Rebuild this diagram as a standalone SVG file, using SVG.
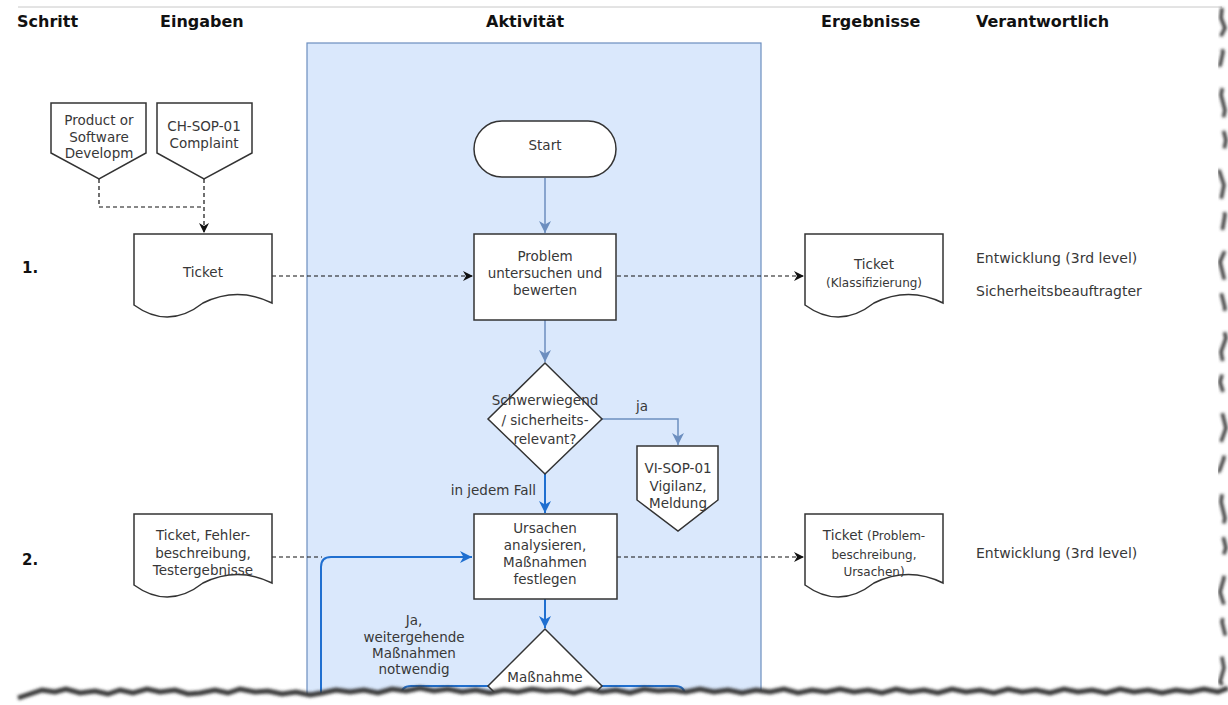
<svg xmlns="http://www.w3.org/2000/svg" width="1228" height="705" viewBox="0 0 1228 705">
<style>
text{font-family:"DejaVu Sans","Verdana",sans-serif;font-size:13.5px;fill:#383838;text-anchor:middle}
.hdr{font-weight:bold;font-size:16px;fill:#111;text-anchor:start}
.step{font-weight:bold;font-size:15px;fill:#111;text-anchor:start}
.resp{font-size:14px;text-anchor:start}
.sm{font-size:12px}
.node{fill:#fff;stroke:#333;stroke-width:1.5}
.dash{fill:none;stroke:#111;stroke-width:1.2;stroke-dasharray:4 3}
.gb{fill:none;stroke:#6c8ebf;stroke-width:1.5}
.bb{fill:none;stroke:#1f6fd0;stroke-width:2}
</style>
<defs>
<marker id="aBlack" markerUnits="userSpaceOnUse" markerWidth="12" markerHeight="10" refX="10" refY="5" orient="auto"><path d="M0,0 L10,5 L0,10 L3,5 Z" fill="#111"/></marker>
<marker id="aGray" markerUnits="userSpaceOnUse" markerWidth="14" markerHeight="12" refX="12" refY="6" orient="auto"><path d="M0,0 L12,6 L0,12 L3.5,6 Z" fill="#6c8ebf"/></marker>
<marker id="aBlue" markerUnits="userSpaceOnUse" markerWidth="14" markerHeight="12" refX="12" refY="6" orient="auto"><path d="M0,0 L12,6 L0,12 L3.5,6 Z" fill="#1f6fd0"/></marker>
<filter id="blur" x="-5%" y="-50%" width="110%" height="200%"><feGaussianBlur stdDeviation="1.6"/></filter>
</defs>

<line x1="18" y1="7" x2="1222" y2="7" stroke="#c8c8c8" stroke-width="1"/>

<g id="headers">
<text class="hdr" x="17" y="27">Schritt</text>
<text class="hdr" x="160" y="27">Eingaben</text>
<text class="hdr" x="486" y="27">Aktivität</text>
<text class="hdr" x="821" y="27">Ergebnisse</text>
<text class="hdr" x="976" y="27">Verantwortlich</text>
</g>

<g id="lane"><rect x="307" y="43" width="454" height="680" fill="#dae8fc" stroke="#6c8ebf" stroke-width="1.2"/></g>

<g id="steps">
<text class="step" x="22" y="273">1.</text>
<text class="step" x="22" y="565">2.</text>
</g>

<g id="connectors">
<path class="dash" d="M99,179 V207 H204"/>
<path class="dash" d="M204,179 V233" marker-end="url(#aBlack)"/>
<path class="dash" d="M272,276 H473" marker-end="url(#aBlack)"/>
<path class="dash" d="M617,276 H804" marker-end="url(#aBlack)"/>
<path class="gb" d="M545,178 V233" marker-end="url(#aGray)"/>
<path class="gb" d="M545,320 V362" marker-end="url(#aGray)"/>
<path class="gb" d="M602,419 H678 V445" marker-end="url(#aGray)"/>
<path class="bb" d="M545,474 V513" marker-end="url(#aBlue)"/>
<path class="dash" d="M272,557 H322"/>
<path class="bb" d="M321,705 V567 Q321,557 331,557 H472" marker-end="url(#aBlue)"/>
<path class="dash" d="M617,557 H804" marker-end="url(#aBlack)"/>
<path class="bb" d="M545,599 V628" marker-end="url(#aBlue)"/>
<path class="bb" d="M489,686 H411 Q401,686 401,696 V705"/>
<path class="bb" d="M601,686 H675 Q685,686 685,696 V705"/>
<text x="636" y="411" style="text-anchor:start">ja</text>
<text x="536" y="495" style="text-anchor:end">in jedem Fall</text>
<text x="414" y="625">Ja,</text>
<text x="414" y="642">weitergehende</text>
<text x="414" y="658">Maßnahmen</text>
<text x="414" y="674">notwendig</text>
</g>

<g id="in-product">
<path class="node" d="M51,103 H146 V153 L99,179 L51,153 Z"/>
<text x="99" y="125">Product or</text>
<text x="99" y="142">Software</text>
<text x="99" y="158">Developm</text>
</g>
<g id="in-chsop">
<path class="node" d="M157,103 H252 V153 L204,179 L157,153 Z"/>
<text x="204" y="131">CH-SOP-01</text>
<text x="204" y="148">Complaint</text>
</g>
<g id="in-ticket">
<path class="node" d="M134,234 H272 V303 Q237.5,286 203,303 Q168.5,330 134,305 Z"/>
<text x="203" y="277">Ticket</text>
</g>
<g id="start">
<rect class="node" x="474" y="121" width="142" height="56" rx="28" ry="28"/>
<text x="545" y="150">Start</text>
</g>
<g id="problem">
<rect class="node" x="474" y="234" width="142" height="86"/>
<text x="545" y="261">Problem</text>
<text x="545" y="278">untersuchen und</text>
<text x="545" y="295">bewerten</text>
</g>
<g id="out-ticket1">
<path class="node" d="M805,234 H943 V303 Q908.5,286 874,303 Q839.5,330 805,305 Z"/>
<text x="874" y="269">Ticket</text>
<text class="sm" x="874" y="287">(Klassifizierung)</text>
</g>
<g id="resp1">
<text class="resp" x="976" y="263">Entwicklung (3rd level)</text>
<text class="resp" x="976" y="296">Sicherheitsbeauftragter</text>
</g>
<g id="decision1">
<path class="node" d="M545,363 L602,419 L545,474 L488,419 Z"/>
<text x="545" y="405">Schwerwiegend</text>
<text x="545" y="425">/ sicherheits-</text>
<text x="545" y="444">relevant?</text>
</g>
<g id="vi-sop">
<path class="node" d="M637,446 H718 V500 L678,531 L637,500 Z"/>
<text x="678" y="473">VI-SOP-01</text>
<text x="678" y="491">Vigilanz,</text>
<text x="678" y="508">Meldung</text>
</g>
<g id="in-ticket2">
<path class="node" d="M134,514 H272 V583 Q237.5,566 203,583 Q168.5,610 134,585 Z"/>
<text x="203" y="540">Ticket, Fehler-</text>
<text x="203" y="558">beschreibung,</text>
<text x="203" y="575">Testergebnisse</text>
</g>
<g id="ursachen">
<rect class="node" x="474" y="514" width="143" height="85"/>
<text x="545" y="533">Ursachen</text>
<text x="545" y="550">analysieren,</text>
<text x="545" y="567">Maßnahmen</text>
<text x="545" y="584">festlegen</text>
</g>
<g id="out-ticket2">
<path class="node" d="M805,514 H943 V583 Q908.5,566 874,583 Q839.5,610 805,585 Z"/>
<text x="874" y="540">Ticket <tspan class="sm">(Problem-</tspan></text>
<text class="sm" x="874" y="559">beschreibung,</text>
<text class="sm" x="874" y="576">Ursachen)</text>
</g>
<g id="resp2">
<text class="resp" x="976" y="558">Entwicklung (3rd level)</text>
</g>
<g id="decision2">
<path class="node" d="M545,629 L602,686 L545,743 L488,686 Z"/>
<text x="545" y="682">Maßnahme</text>
</g>

<g id="torn-edges">
<path d="M0,700 L18,698 L30,694 L42,690 L55,692 L66,689 L80,693 L95,691 L108,694 L120,690 L133,693 L147,689 L160,692 L175,690 L188,694 L200,693 L215,690 L228,693 L240,689 L255,692 L268,691 L282,694 L296,692 L310,695 L322,693 L336,690 L350,692 L364,690 L378,693 L392,689 L406,691 L420,688 L434,691 L448,689 L462,692 L476,690 L490,693 L504,690 L518,692 L532,689 L546,691 L560,690 L574,693 L588,689 L602,692 L616,690 L630,693 L644,689 L658,691 L672,690 L686,692 L700,689 L714,692 L728,690 L742,693 L756,690 L770,692 L784,689 L798,693 L812,690 L826,692 L840,689 L854,692 L868,690 L882,693 L896,689 L910,692 L924,690 L938,693 L952,689 L966,692 L980,690 L994,693 L1008,689 L1022,692 L1036,690 L1050,693 L1064,689 L1078,692 L1092,690 L1106,693 L1120,689 L1134,692 L1148,690 L1162,693 L1176,690 L1190,692 L1204,689 L1218,692 L1228,688 L1228,705 L0,705 Z" fill="#fff"/>
<path d="M1222,0 L1222,8 L1221,18 L1225,28 L1219,40 L1223,52 L1220,66 L1224,80 L1221,95 L1225,110 L1222,125 L1226,140 L1223,155 L1219,170 L1224,185 L1221,200 L1225,215 L1222,232 L1226,248 L1220,262 L1224,278 L1221,292 L1225,308 L1222,322 L1226,338 L1221,352 L1224,368 L1220,382 L1225,398 L1222,412 L1226,428 L1221,442 L1224,458 L1219,472 L1223,488 L1221,502 L1225,518 L1222,532 L1226,548 L1221,562 L1224,578 L1220,592 L1225,608 L1222,622 L1226,638 L1221,652 L1224,668 L1220,682 L1228,690 L1228,0 Z" fill="#fff"/>
<path d="M18,698 L30,694 L42,690 L55,692 L66,689 L80,693 L95,691 L108,694 L120,690 L133,693 L147,689 L160,692 L175,690 L188,694 L200,693 L215,690 L228,693 L240,689 L255,692 L268,691 L282,694 L296,692 L310,695 L322,693 L336,690 L350,692 L364,690 L378,693 L392,689 L406,691 L420,688 L434,691 L448,689 L462,692 L476,690 L490,693 L504,690 L518,692 L532,689 L546,691 L560,690 L574,693 L588,689 L602,692 L616,690 L630,693 L644,689 L658,691 L672,690 L686,692 L700,689 L714,692 L728,690 L742,693 L756,690 L770,692 L784,689 L798,693 L812,690 L826,692 L840,689 L854,692 L868,690 L882,693 L896,689 L910,692 L924,690 L938,693 L952,689 L966,692 L980,690 L994,693 L1008,689 L1022,692 L1036,690 L1050,693 L1064,689 L1078,692 L1092,690 L1106,693 L1120,689 L1134,692 L1148,690 L1162,693 L1176,690 L1190,692 L1204,689 L1218,692 L1228,688" fill="none" stroke="#3a3a3a" stroke-width="5" filter="url(#blur)"/>
<path d="M1222,8 L1221,18 L1225,28 L1219,40 L1223,52 L1220,66 L1224,80 L1221,95 L1225,110 L1222,125 L1226,140 L1223,155 L1219,170 L1224,185 L1221,200 L1225,215 L1222,232 L1226,248 L1220,262 L1224,278 L1221,292 L1225,308 L1222,322 L1226,338 L1221,352 L1224,368 L1220,382 L1225,398 L1222,412 L1226,428 L1221,442 L1224,458 L1219,472 L1223,488 L1221,502 L1225,518 L1222,532 L1226,548 L1221,562 L1224,578 L1220,592 L1225,608 L1222,622 L1226,638 L1221,652 L1224,668 L1220,682 L1228,690" fill="none" stroke="#3a3a3a" stroke-width="3.5" stroke-dasharray="30 14 18 22" filter="url(#blur)"/>
</g>
</svg>
